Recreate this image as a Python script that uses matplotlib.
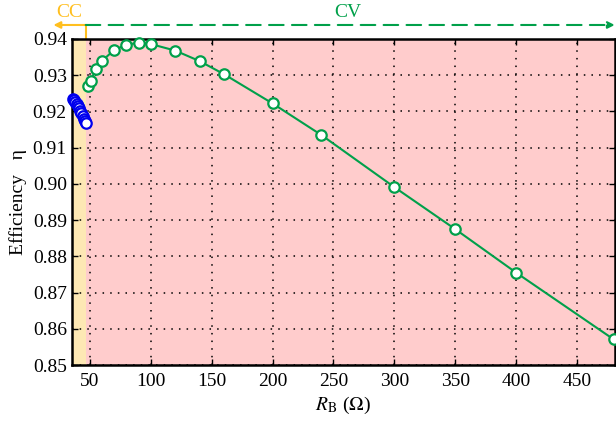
import numpy as np
import matplotlib.pyplot as plt
from matplotlib.ticker import FormatStrFormatter

# CC-mode points (blue)
r_cc = [36, 37, 38, 39, 40, 41, 42, 43, 44, 45, 46, 47]
eta_cc = [0.9235, 0.9231, 0.9226, 0.9221, 0.9215, 0.9209,
          0.9202, 0.9195, 0.9188, 0.9180, 0.9173, 0.9168]

# CV-mode points (green)
r_cv = [48, 50.5, 55, 60, 70, 80, 90, 100, 120, 140, 160,
        200, 240, 300, 350, 400, 480]
eta_cv = [0.9269, 0.9285, 0.9317, 0.9340, 0.9370, 0.9384, 0.9390, 0.9386,
          0.9368, 0.9339, 0.9303, 0.9222, 0.9135, 0.8991, 0.8875, 0.8755, 0.8571]

x_min, x_max = 35, 481
y_min, y_max = 0.85, 0.94
r_switch = 46.5

plt.rcParams['font.family'] = ['Liberation Serif', 'DejaVu Serif']
plt.rcParams['mathtext.fontset'] = 'stix'

fig = plt.figure(figsize=(6.16, 4.22), dpi=100)
ax = fig.add_axes([0.1164, 0.135, 0.998 - 0.1164, 0.9076 - 0.135])

green = '#00A04A'
orange = '#FFBF1F'

ax.axvspan(x_min, r_switch, color='#FDE8B4', zorder=0, lw=0)
ax.axvspan(r_switch, x_max, color='#FFCCCC', zorder=0, lw=0)

ax.plot(r_cv, eta_cv, '-o', color=green, lw=1.5, ms=7.5, mfc='white',
        mec=green, mew=1.6, zorder=4, clip_on=False)
ax.plot(r_cc, eta_cc, 'o', color='#0000EE', ms=7.5, mfc='white',
        mec='#0000EE', mew=1.6, zorder=5, clip_on=False)

ax.set_xlim(x_min, x_max)
ax.set_ylim(y_min, y_max)
ax.set_xticks(np.arange(50, 451, 50))
ax.set_yticks(np.arange(0.85, 0.9401, 0.01))
ax.yaxis.set_major_formatter(FormatStrFormatter('%.2f'))
ax.grid(True, color='black', linestyle=(0, (1, 4)), linewidth=1.1)
ax.tick_params(direction='in', top=True, right=True, labelsize=14, length=4, width=1)
ax.tick_params(axis='x', pad=6)
for s in ax.spines.values():
    s.set_linewidth(1.8)

ax.set_xlabel(r'$R_\mathrm{B}$ ($\Omega$)', fontsize=14, labelpad=3)
ax.set_ylabel('Efficiency   η', fontsize=14, labelpad=4)

# CC / CV annotations above the plot
y_arrow = 0.94 + 14 / 3620
ax.plot([r_switch, r_switch], [y_max, y_arrow], color=orange, lw=1.5, clip_on=False)
ax.annotate('', xy=(20, y_arrow), xytext=(r_switch, y_arrow),
            arrowprops=dict(arrowstyle='-|>', color=orange, lw=1.5,
                            shrinkA=0, shrinkB=0, mutation_scale=10),
            annotation_clip=False)
ax.annotate('', xy=(x_max, y_arrow), xytext=(r_switch, y_arrow),
            arrowprops=dict(arrowstyle='-|>', color=green, lw=1.5,
                            linestyle=(0, (7, 4)),
                            shrinkA=0, shrinkB=0, mutation_scale=10),
            annotation_clip=False)
ax.text(33, y_arrow + 0.0010, 'CC', color=orange, fontsize=14,
        ha='center', va='bottom', clip_on=False)
ax.text(262, y_arrow + 0.0010, 'CV', color=green, fontsize=14,
        ha='center', va='bottom', clip_on=False)

fig.savefig('out.png', dpi=100)
